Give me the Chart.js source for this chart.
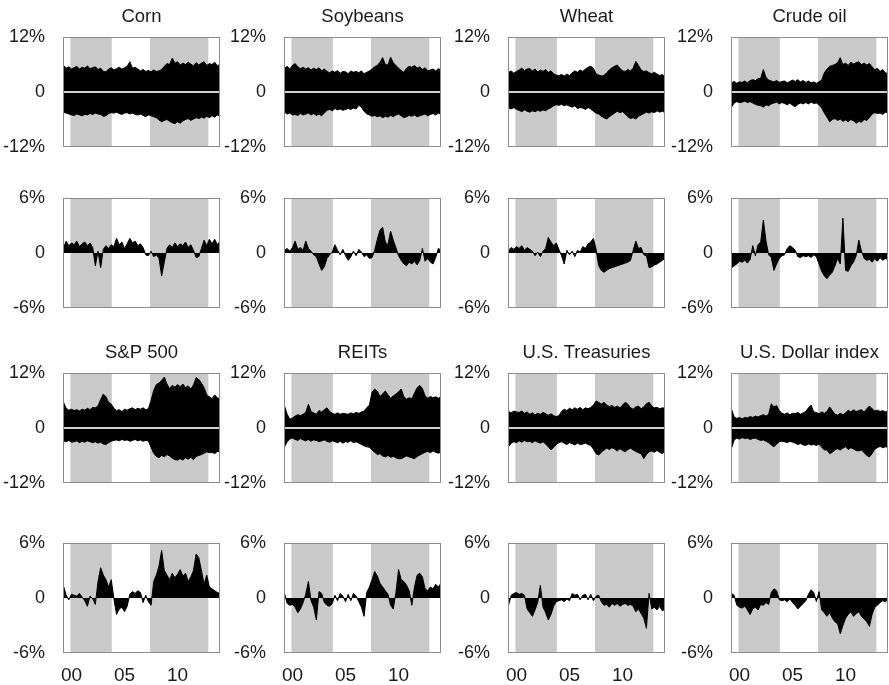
<!DOCTYPE html>
<html>
<head>
<meta charset="utf-8">
<script src="https://cdn.jsdelivr.net/npm/chart.js@4.4.1/dist/chart.umd.min.js"></script>
<style>
  body { margin: 0; background: #fff; overflow: hidden; }
  #wrap { position: relative; width: 889px; height: 685px; overflow: hidden; }
  canvas { position: absolute; }
</style>
</head>
<body>
<div id="wrap"></div>
<script>
// quarterly dates (x axis, in years)
const dates = [
  1999.25, 1999.5, 1999.75, 2000.0, 2000.25, 2000.5, 2000.75, 2001.0,
  2001.25, 2001.5, 2001.75, 2002.0, 2002.25, 2002.5, 2002.75, 2003.0,
  2003.25, 2003.5, 2003.75, 2004.0, 2004.25, 2004.5, 2004.75, 2005.0,
  2005.25, 2005.5, 2005.75, 2006.0, 2006.25, 2006.5, 2006.75, 2007.0,
  2007.25, 2007.5, 2007.75, 2008.0, 2008.25, 2008.5, 2008.75, 2009.0,
  2009.25, 2009.5, 2009.75, 2010.0, 2010.25, 2010.5, 2010.75, 2011.0,
  2011.25, 2011.5, 2011.75, 2012.0, 2012.25, 2012.5, 2012.75, 2013.0,
  2013.25, 2013.5, 2013.75, 2014.0
];
const shadedPeriods = [[1999.9, 2003.8], [2007.4, 2012.9]];
const yearTicks = [2000, 2005, 2010];
const yearLabels = ['00', '05', '10'];
const volTicks = [-12, 0, 12];
const levelTicks = [-6, 0, 6];

// Corn
const cornVolUp = [5.8,5.2,5.5,5.0, 5.3,5.6,5.0,5.4, 5.2,5.7,5.1,5.3, 5.5,4.9,5.2,4.5, 4.4,5.0,5.3,4.8,
  5.1,5.4,5.0,5.3, 5.6,6.6,5.2,5.4, 5.0,4.6,4.9,4.5, 4.7,4.4,4.8,4.5, 4.6,4.9,5.6,6.2,
  6.0,7.4,6.3,6.6, 5.9,6.3,6.0,6.5, 6.1,5.7,6.4,5.9, 6.3,6.6,5.8,6.2, 6.0,6.5,5.7,6.1];
const cornVolDown = [-4.4,-4.6,-4.8,-5.0, -5.1,-4.8,-5.0,-5.2, -4.9,-5.0,-4.7,-4.9, -4.6,-4.8,-4.9,-5.3, -5.2,-4.7,-4.5,-4.6,
  -4.4,-4.7,-4.9,-4.6, -4.5,-4.8,-4.6,-4.9, -5.0,-4.8,-5.1,-5.4, -5.0,-5.2,-5.4,-5.6, -6.1,-6.5,-6.2,-6.0,
  -6.4,-6.7,-6.9,-6.5, -6.8,-6.3,-6.0,-5.8, -6.2,-5.9,-5.6,-5.8, -5.5,-5.7,-5.3,-5.6, -5.2,-5.5,-5.0,-5.3];
const cornLevel = [0.6,1.3,0.8,1.1, 0.9,1.3,0.7,1.0, 1.2,0.8,1.1,0.6, -1.4,0.2,-1.6,0.4, 0.8,0.5,0.9,0.7,
  1.6,0.9,1.2,0.5, 1.0,1.6,1.1,1.3, 0.8,1.0,0.6,-0.2, -0.3,0.2,-0.4,-0.2, -0.6,-2.5,-1.0,0.5,
  0.9,0.6,1.1,0.7, 1.0,0.8,1.2,0.6, 0.9,0.3,-0.5,-0.4, 0.5,1.4,0.8,1.5, 1.0,1.5,0.9,1.3];

// Soybeans
const soyVolUp = [5.2,5.6,5.0,5.8, 6.2,5.5,5.1,5.4, 5.0,5.3,4.8,5.2, 4.9,5.3,4.6,5.0, 4.5,4.2,4.6,4.3,
  4.7,4.1,4.5,4.4, 4.0,4.6,4.3,4.5, 4.2,4.6,4.0,4.3, 4.6,5.0,5.5,5.8, 6.5,7.5,6.0,5.9,
  7.6,6.4,5.8,5.2, 4.7,4.3,5.2,5.6, 5.4,5.8,5.2,5.5, 4.9,5.3,4.6,4.8, 5.0,4.6,5.1,4.8];
const soyVolDown = [-4.4,-4.8,-4.6,-5.0, -4.9,-5.1,-4.7,-5.0, -4.8,-4.6,-5.0,-4.7, -5.1,-4.8,-5.2,-4.6, -4.0,-3.8,-4.1,-3.6,
  -3.9,-3.7,-4.0,-3.8, -3.6,-3.8,-3.5,-3.7, -2.9,-3.3,-4.2,-4.8, -5.0,-5.3,-5.1,-5.4, -5.2,-5.6,-5.3,-5.5,
  -5.1,-5.4,-5.0,-4.8, -5.2,-5.6,-5.4,-5.1, -5.3,-5.0,-5.4,-5.2, -5.0,-4.8,-5.2,-4.9, -4.7,-5.0,-4.6,-4.9];
const soyLevel = [0.3,0.5,0.2,0.6, 1.3,0.4,0.6,0.3, 1.3,0.5,0.2,-0.2, -0.4,-1.2,-1.9,-1.5, -0.6,-0.2,0.1,0.9,
  0.3,-0.2,0.4,-0.3, -0.8,-0.4,0.2,-0.3, 0.4,0.1,-0.4,-0.2, -0.6,-0.5,0.3,1.5, 2.5,2.8,1.2,0.9,
  2.4,1.4,0.6,-0.3, -0.8,-1.2,-1.4,-1.0, -1.2,-0.9,-1.3,-0.8, 0.5,-0.9,-0.6,-1.0, -1.2,-0.5,0.5,0.3];

// Wheat
const wheatVolUp = [4.3,4.6,4.1,4.5, 4.8,5.2,4.7,5.0, 5.1,4.6,5.0,4.4, 4.8,4.5,4.9,4.3, 4.6,4.0,3.7,3.6,
  3.8,3.5,3.9,3.6, 4.2,4.6,4.3,4.8, 4.5,5.0,5.4,5.6, 5.2,4.0,3.7,3.5, 3.6,4.2,4.8,5.3,
  5.6,5.9,5.2,4.6, 4.5,4.9,4.6,5.2, 6.7,5.8,4.8,4.5, 4.6,4.2,4.0,4.3, 3.9,3.6,3.8,3.4];
const wheatVolDown = [-3.5,-3.7,-3.4,-3.8, -4.0,-4.3,-3.9,-4.2, -4.4,-4.1,-4.3,-4.0, -4.2,-3.9,-4.1,-3.7, -3.4,-3.0,-2.8,-2.9,
  -2.7,-3.0,-2.8,-3.1, -3.3,-3.0,-3.6,-3.4, -3.5,-3.8,-3.4,-3.7, -4.2,-4.6,-4.8,-5.3, -5.6,-5.9,-5.4,-5.0,
  -4.6,-4.2,-4.5,-4.3, -4.8,-5.4,-5.8,-5.6, -5.9,-5.3,-5.0,-4.7, -4.4,-4.6,-4.3,-4.5, -4.1,-4.4,-4.2,-4.5];
const wheatLevel = [0.3,0.6,0.4,0.7, 0.5,0.8,0.3,0.6, 0.4,0.2,-0.3,0.1, -0.4,0.2,0.5,1.7, 1.2,0.8,1.1,0.4,
  -0.3,-1.2,0.3,-0.2, 0.2,-0.4,0.3,0.1, 0.7,0.5,1.0,1.2, 1.6,0.4,-1.4,-1.9, -2.1,-1.9,-1.7,-1.6,
  -1.5,-1.4,-1.3,-1.2, -1.1,-1.0,-0.8,0.3, 1.3,0.5,0.6,-0.2, -0.3,-1.6,-1.5,-1.3, -1.2,-1.0,-0.8,-0.6];

// Crude oil
const oilVolUp = [2.0,2.3,1.9,2.2, 2.1,2.4,2.0,2.5, 2.7,2.5,2.9,3.0, 4.9,3.2,2.6,2.4, 2.2,2.5,2.1,2.3,
  2.4,2.0,2.3,2.6, 2.3,2.7,2.2,2.5, 2.1,2.4,2.0,2.2, 1.9,2.2,2.6,4.2, 5.0,5.6,5.8,6.0,
  6.4,7.5,6.0,6.3, 5.8,6.5,6.1,6.4, 6.6,6.0,6.3,5.9, 6.2,5.5,4.8,5.2, 4.5,4.9,4.2,4.0];
const oilVolDown = [-3.3,-2.4,-2.1,-2.3, -2.2,-2.0,-2.3,-2.1, -2.4,-2.7,-2.9,-3.0, -3.3,-2.8,-3.0,-2.6, -2.4,-2.2,-2.6,-2.3,
  -2.5,-2.8,-2.4,-2.9, -3.2,-2.7,-2.4,-2.6, -2.3,-2.6,-2.2,-2.5, -2.4,-2.8,-3.5,-4.6, -5.5,-6.5,-6.0,-5.8,
  -6.2,-5.9,-6.4,-6.1, -6.5,-6.0,-6.3,-6.8, -6.4,-6.6,-6.0,-6.2, -5.6,-4.8,-4.5,-4.7, -4.6,-4.9,-4.4,-4.6];
const oilLevel = [-1.6,-1.4,-1.2,-0.9, -1.0,-0.8,-1.1,-0.7, 0.8,-0.3,0.9,1.2, 3.6,1.3,-0.2,-0.5, -1.9,-1.2,-0.6,-0.3,
  -0.2,0.5,0.8,0.6, 0.3,-0.4,-0.5,-0.3, -0.4,-0.3,-0.5,-0.2, -0.4,-1.2,-2.0,-2.5, -2.8,-2.4,-2.1,-1.4,
  -0.6,-1.2,3.8,-1.9, -2.0,-1.4,-1.0,-0.3, 1.4,0.2,-0.6,-0.8, -0.7,-1.0,-0.6,-0.9, -0.5,-0.8,-0.6,-0.7];

// S&P 500
const spVolUp = [5.6,4.3,3.9,4.1, 3.8,4.0,3.7,4.1, 3.9,4.3,4.0,4.5, 4.4,4.8,6.2,7.4, 6.8,5.6,5.2,4.3,
  3.8,4.0,3.6,4.1, 3.9,4.2,4.4,4.0, 4.3,4.1,4.4,4.0, 4.2,6.0,8.2,9.5, 9.8,10.4,11.1,9.6,
  8.6,9.3,8.9,9.5, 9.0,9.6,8.8,9.2, 8.5,9.4,11.0,10.6, 9.8,8.8,7.2,6.8, 6.4,7.2,6.6,6.3];
const spVolDown = [-2.8,-3.0,-2.7,-3.1, -3.0,-2.8,-3.2,-2.9, -3.1,-2.8,-3.0,-3.2, -3.0,-3.3,-3.1,-3.5, -3.6,-3.2,-2.9,-2.7,
  -2.6,-2.8,-2.5,-2.7, -2.6,-2.9,-2.7,-2.5, -2.8,-2.6,-2.9,-2.7, -2.8,-4.2,-5.5,-6.2, -6.5,-6.0,-6.3,-5.8,
  -6.1,-6.6,-6.9,-7.0, -6.7,-7.0,-6.5,-6.8, -6.4,-6.9,-6.2,-6.0, -5.8,-5.5,-5.2,-5.4, -5.3,-5.6,-5.1,-5.2];
const spLevel = [1.3,0.3,-0.2,0.4, 0.3,0.2,0.5,0.1, -0.3,-0.9,0.2,-0.1, -0.7,1.8,3.3,2.5, 2.0,1.2,2.0,-0.1,
  -1.8,-1.2,-1.0,-1.5, -0.9,0.4,0.7,0.5, 0.8,0.6,-0.5,0.3, -0.4,-0.8,1.8,2.5, 3.5,5.2,3.0,2.5,
  2.0,2.7,2.2,2.6, 3.1,2.4,2.7,1.8, 2.3,3.0,4.8,4.4, 3.0,1.5,2.5,1.2, 1.0,0.8,0.6,0.5];

// REITs
const reitVolUp = [4.8,3.0,1.9,2.2, 2.6,2.9,2.7,3.0, 3.4,5.2,3.6,3.3, 3.0,3.8,3.5,4.0, 4.4,3.6,3.2,3.0,
  3.3,3.0,3.2,3.1, 3.0,3.3,3.1,3.4, 3.2,3.5,3.7,4.4, 5.0,7.8,8.5,8.0, 6.9,7.4,8.1,7.2,
  6.5,7.0,7.4,7.9, 8.5,6.8,6.3,6.6, 6.4,7.6,8.8,9.3, 8.6,7.0,6.5,6.9, 6.6,6.8,6.5,6.9];
const reitVolDown = [-4.1,-3.0,-2.4,-2.2, -2.5,-2.7,-2.3,-2.6, -2.8,-2.5,-2.9,-2.6, -2.7,-3.0,-2.8,-2.6, -2.9,-3.1,-2.8,-3.0,
  -3.2,-2.9,-3.3,-3.0, -3.1,-2.8,-3.2,-3.0, -3.3,-3.6,-3.9,-4.1, -4.2,-4.8,-5.3,-5.8, -5.6,-6.1,-6.3,-6.0,
  -6.4,-6.2,-6.5,-6.7, -6.7,-6.4,-6.1,-6.3, -6.5,-6.7,-6.2,-5.9, -5.6,-5.3,-5.1,-5.4, -5.0,-5.3,-5.5,-5.2];
const reitLevel = [0.5,-0.6,-0.8,-0.7, -1.0,-1.6,-1.2,-0.5, 0.4,1.8,-0.3,-1.0, -2.4,0.7,0.5,-0.5, -0.8,-0.9,-0.6,0.3,
  -0.3,0.5,0.2,-0.4, 0.4,-0.3,0.5,0.2, -0.4,-1.0,-2.0,0.6, 1.2,2.0,2.9,2.4, 1.6,1.2,0.8,0.4,
  -0.8,-1.2,0.6,3.1, 2.0,1.8,1.4,0.8, -0.8,1.2,2.5,2.7, 2.3,1.0,0.8,1.2, 1.0,1.5,1.2,1.6];

// U.S. Treasuries
const tsyVolUp = [3.6,3.3,3.7,3.5, 3.4,3.7,3.2,3.5, 3.0,3.3,2.9,3.2, 3.0,3.4,3.1,2.8, 3.1,2.7,2.5,2.7,
  3.6,4.1,3.8,4.3, 4.0,4.4,4.1,4.5, 4.0,4.4,4.2,4.5, 5.0,5.9,5.6,5.2, 5.6,5.0,4.7,4.9,
  4.5,4.8,4.4,5.0, 5.6,5.2,4.4,4.1, 4.6,4.8,4.2,4.6, 5.3,5.6,4.8,4.4, 4.5,4.2,4.4,4.3];
const tsyVolDown = [-4.1,-3.3,-3.0,-3.2, -2.8,-3.1,-2.7,-3.0, -2.9,-3.2,-2.8,-3.1, -3.3,-3.0,-3.5,-4.1, -4.8,-4.2,-3.6,-3.2,
  -3.0,-3.3,-3.6,-3.2, -3.4,-3.7,-3.3,-3.6, -3.5,-3.3,-3.6,-3.8, -4.6,-5.6,-5.9,-5.3, -4.8,-4.4,-4.7,-4.3,
  -4.6,-5.0,-4.5,-4.9, -5.2,-4.7,-4.4,-4.8, -5.1,-5.4,-5.6,-6.7, -5.8,-5.2,-5.0,-5.3, -4.9,-5.3,-5.6,-5.0];
const tsyLevel = [-0.8,0.3,0.5,0.6, 0.4,0.5,0.3,-1.2, -1.6,-2.0,-1.3,-0.5, 1.4,-1.0,-1.6,-2.4, -1.8,-0.9,-0.4,-0.3,
  -0.2,-0.4,-0.1,-0.3, 0.5,0.3,0.4,-0.2, 0.3,0.4,-0.2,0.4, -0.3,0.2,0.3,-0.4, -0.8,-0.7,-1.0,-0.6,
  -0.8,-0.6,-0.9,-0.7, -0.6,-0.8,-0.7,-0.9, -1.5,-1.2,-1.7,-2.2, -3.3,0.5,-1.2,-1.0, -1.3,-0.9,-1.4,-1.2];

// U.S. Dollar index
const usdVolUp = [4.1,2.4,2.1,2.3, 2.0,2.3,2.2,2.5, 2.3,2.6,2.4,2.7, 2.9,2.6,3.0,5.3, 4.6,4.9,3.8,3.2,
  3.0,3.3,2.9,3.2, 3.1,3.4,3.0,3.3, 3.6,4.4,5.0,3.5, 3.4,3.1,3.5,3.2, 3.6,4.6,3.8,3.0,
  2.8,3.2,2.9,3.3, 3.9,3.5,4.0,3.6, 3.8,4.0,3.5,4.2, 4.8,4.2,3.7,3.9, 3.6,3.8,3.5,3.7];
const usdVolDown = [-4.4,-2.6,-2.2,-2.4, -2.1,-2.3,-2.2,-2.5, -2.3,-2.2,-2.5,-2.7, -2.6,-2.9,-3.2,-3.7, -4.1,-3.5,-3.0,-2.9,
  -3.0,-3.2,-2.9,-3.1, -3.3,-3.6,-3.4,-3.7, -3.8,-3.5,-3.7,-3.6, -3.8,-3.5,-4.2,-4.8, -4.8,-5.6,-5.3,-4.8,
  -4.5,-4.8,-4.4,-4.1, -4.7,-4.3,-4.6,-4.9, -5.0,-4.8,-5.4,-6.0, -6.3,-5.6,-4.6,-4.3, -4.0,-4.3,-4.1,-4.2];
const usdLevel = [0.5,0.3,-0.8,-1.0, -1.1,-0.9,-1.3,-1.8, -1.2,-1.0,-1.3,-0.7, -0.8,-0.5,-0.7,0.6, 1.0,0.8,-0.2,-0.3,
  -0.2,-0.4,-0.1,-0.5, -0.8,-1.2,-0.9,-0.6, -0.3,0.4,0.9,0.6, -0.4,0.7,-1.3,-1.6, -2.0,-1.6,-2.2,-2.6,
  -2.8,-3.9,-3.0,-2.2, -1.8,-1.5,-2.0,-1.7, -1.5,-2.0,-2.3,-2.6, -3.1,-1.8,-1.0,-0.8, -0.5,-0.3,-0.4,-0.2];

const panels = [
  { row: 0, col: 0, title: 'Corn', series: [cornVolUp, cornVolDown], ticks: volTicks },
  { row: 0, col: 1, title: 'Soybeans', series: [soyVolUp, soyVolDown], ticks: volTicks },
  { row: 0, col: 2, title: 'Wheat', series: [wheatVolUp, wheatVolDown], ticks: volTicks },
  { row: 0, col: 3, title: 'Crude oil', series: [oilVolUp, oilVolDown], ticks: volTicks },
  { row: 1, col: 0, series: [cornLevel], ticks: levelTicks },
  { row: 1, col: 1, series: [soyLevel], ticks: levelTicks },
  { row: 1, col: 2, series: [wheatLevel], ticks: levelTicks },
  { row: 1, col: 3, series: [oilLevel], ticks: levelTicks },
  { row: 2, col: 0, title: 'S&P 500', series: [spVolUp, spVolDown], ticks: volTicks },
  { row: 2, col: 1, title: 'REITs', series: [reitVolUp, reitVolDown], ticks: volTicks },
  { row: 2, col: 2, title: 'U.S. Treasuries', series: [tsyVolUp, tsyVolDown], ticks: volTicks },
  { row: 2, col: 3, title: 'U.S. Dollar index', series: [usdVolUp, usdVolDown], ticks: volTicks },
  { row: 3, col: 0, series: [spLevel], ticks: levelTicks },
  { row: 3, col: 1, series: [reitLevel], ticks: levelTicks },
  { row: 3, col: 2, series: [tsyLevel], ticks: levelTicks },
  { row: 3, col: 3, series: [usdLevel], ticks: levelTicks }
];

// where each plot box sits on the page
const colLeft = [63, 284, 508, 731];
const rowTop = [37, 198, 373, 543];
const padLeft = 63, padTop = 37, plotW = 157, plotH = 110, padBottom = 38;

Chart.defaults.font.family = '"Liberation Sans", Arial, Helvetica, sans-serif';
Chart.defaults.color = '#1a1a1a';

// grey shading behind the data, pale zero line and box on top
const panelDecor = {
  id: 'panelDecor',
  beforeDatasetsDraw(chart) {
    const { ctx, chartArea: a, scales: { x } } = chart;
    ctx.save();
    ctx.fillStyle = '#c9c9c9';
    shadedPeriods.forEach(([s, e]) => {
      const x0 = x.getPixelForValue(s);
      const x1 = x.getPixelForValue(e);
      ctx.fillRect(x0, a.top, x1 - x0, a.bottom - a.top);
    });
    ctx.restore();
  },
  afterDatasetsDraw(chart, args, opts) {
    const { ctx, chartArea: a, scales: { y } } = chart;
    ctx.save();
    if (opts.zeroLine) {
      const y0 = Math.round(y.getPixelForValue(0));
      ctx.strokeStyle = '#cfcfcf';
      ctx.lineWidth = 2;
      ctx.beginPath();
      ctx.moveTo(a.left, y0);
      ctx.lineTo(a.right, y0);
      ctx.stroke();
    }
    ctx.strokeStyle = '#8c8c8c';
    ctx.lineWidth = 1;
    ctx.strokeRect(a.left + 0.5, a.top + 0.5, a.right - a.left - 1, a.bottom - a.top - 1);
    ctx.restore();
  }
};

const wrap = document.getElementById('wrap');

panels.forEach(p => {
  const canvas = document.createElement('canvas');
  canvas.width = padLeft + plotW + 2;
  canvas.height = padTop + plotH + padBottom;
  canvas.style.left = (colLeft[p.col] - padLeft) + 'px';
  canvas.style.top = (rowTop[p.row] - padTop) + 'px';
  wrap.appendChild(canvas);

  const range = p.ticks[2];
  const isVol = p.series.length === 2;
  const showX = p.row === 3;

  new Chart(canvas, {
    type: 'line',
    data: {
      labels: dates,
      datasets: p.series.map(s => ({
        data: s,
        fill: 'origin',
        backgroundColor: '#000',
        borderColor: '#000',
        borderWidth: 1,
        pointRadius: 0,
        tension: 0
      }))
    },
    options: {
      responsive: false,
      animation: false,
      events: [],
      layout: { padding: { left: 0, right: 2, top: p.title ? 6 : padTop, bottom: showX ? 0 : padBottom } },
      plugins: {
        legend: { display: false },
        tooltip: { enabled: false },
        title: {
          display: !!p.title,
          text: p.title,
          fullSize: false,
          color: '#1a1a1a',
          font: { size: 18.5, weight: 'normal', lineHeight: 1.2 },
          padding: { top: 0, bottom: 8.8 }
        },
        panelDecor: { zeroLine: isVol }
      },
      scales: {
        x: {
          type: 'linear',
          min: 1999.2,
          max: 2014.0,
          display: showX,
          grid: { display: false },
          border: { display: false },
          afterBuildTicks: s => { s.ticks = yearTicks.map(v => ({ value: v })); },
          ticks: {
            padding: 3,
            maxRotation: 0,
            autoSkip: false,
            font: { size: 19 },
            callback: (v, i) => yearLabels[i]
          },
          afterFit: s => { s.height = showX ? padBottom : 0; s.paddingLeft = 0; s.paddingRight = 0; }
        },
        y: {
          min: -range,
          max: range,
          grid: { display: false },
          border: { display: false },
          afterBuildTicks: s => { s.ticks = p.ticks.map(v => ({ value: v })); },
          ticks: {
            padding: 10,
            font: { size: 18 },
            callback: v => (v === 0 ? '0' : v + '%')
          },
          afterFit: s => { s.width = padLeft; s.paddingTop = 0; s.paddingBottom = 0; }
        }
      }
    },
    plugins: [panelDecor]
  });
});
</script>
</body>
</html>
